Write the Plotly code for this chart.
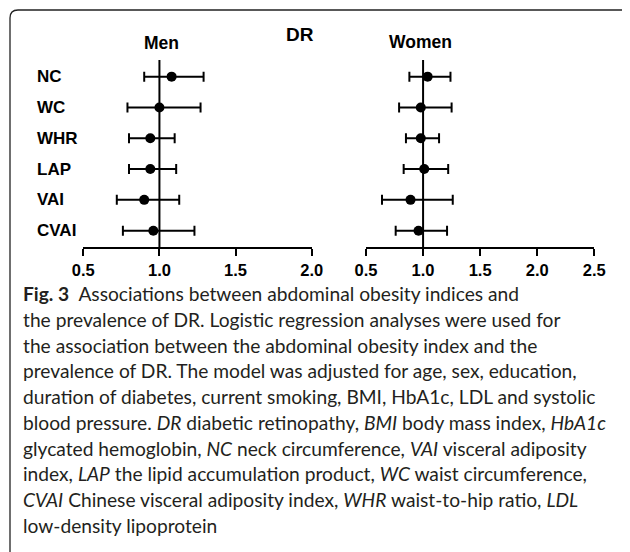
import plotly.graph_objects as go

# ---------------- data ----------------
categories = ["NC", "WC", "WHR", "LAP", "VAI", "CVAI"]
men_or = [1.08, 1.00, 0.94, 0.94, 0.90, 0.96]
men_lo = [0.90, 0.79, 0.80, 0.80, 0.72, 0.76]
men_hi = [1.29, 1.27, 1.10, 1.11, 1.13, 1.23]
women_or = [1.04, 0.98, 0.98, 1.01, 0.89, 0.96]
women_lo = [0.88, 0.79, 0.85, 0.83, 0.64, 0.76]
women_hi = [1.24, 1.25, 1.14, 1.22, 1.26, 1.21]
men_ticks = [0.5, 1.0, 1.5, 2.0]
women_ticks = [0.5, 1.0, 1.5, 2.0, 2.5]

caption_lines = [
    "<b>Fig. 3</b>  Associations between abdominal obesity indices and",
    "the prevalence of DR. Logistic regression analyses were used for",
    "the association between the abdominal obesity index and the",
    "prevalence of DR. The model was adjusted for age, sex, education,",
    "duration of diabetes, current smoking, BMI, HbA1c, LDL and systolic",
    "blood pressure. <i>DR</i> diabetic retinopathy, <i>BMI</i> body mass index, <i>HbA1c</i>",
    "glycated hemoglobin, <i>NC</i> neck circumference, <i>VAI</i> visceral adiposity",
    "index, <i>LAP</i> the lipid accumulation product, <i>WC</i> waist circumference,",
    "<i>CVAI</i> Chinese visceral adiposity index, <i>WHR</i> waist-to-hip ratio, <i>LDL</i>",
    "low-density lipoprotein",
]

W, H = 630, 552
OFF = 8  # page body margin
def px(x):
    return (x - OFF) / W
def py(y):
    return 1 - (y - OFF) / H

ypos = list(range(len(categories)))
BLACK = "#000000"
FONT = "Liberation Sans, Arial, sans-serif"
CAPFONT = "Lato, Open Sans, sans-serif"

fig = go.Figure()

def add_series(xs, lo, hi, xa, ya):
    fig.add_trace(go.Scatter(
        x=xs, y=ypos, mode="markers", xaxis=xa, yaxis=ya,
        marker=dict(color=BLACK, size=10),
        error_x=dict(type="data", symmetric=False,
                     array=[h - v for h, v in zip(hi, xs)],
                     arrayminus=[v - l for l, v in zip(lo, xs)],
                     color=BLACK, thickness=2, width=5),
        showlegend=False, hoverinfo="skip"))

add_series(men_or, men_lo, men_hi, "x", "y")
add_series(women_or, women_lo, women_hi, "x2", "y2")

ydom = [py(247), py(60)]
yrange = [5.53, -0.54]
axis_common = dict(showline=True, linewidth=2, linecolor=BLACK, ticks="outside",
                   ticklen=7, tickwidth=2, tickcolor=BLACK, showgrid=False,
                   zeroline=False, tickformat=".1f", automargin=False,
                   tickfont=dict(family=FONT, size=16.5, color=BLACK, weight="bold"))
fig.update_layout(
    width=W, height=H, margin=dict(l=0, r=0, t=0, b=0),
    paper_bgcolor="white", plot_bgcolor="rgba(0,0,0,0)",
    xaxis=dict(domain=[px(83.3), px(311.7)], range=[0.5, 2.0], tickvals=men_ticks,
               anchor="y", **axis_common),
    xaxis2=dict(domain=[px(366), px(594.3)], range=[0.5, 2.5], tickvals=women_ticks,
                anchor="y2", **axis_common),
    yaxis=dict(domain=ydom, range=yrange, visible=False, anchor="x"),
    yaxis2=dict(domain=ydom, range=yrange, visible=False, anchor="x2"),
)

shapes = [
    dict(type="line", xref="x", yref="y domain", x0=1.0, x1=1.0, y0=0, y1=1,
         line=dict(color=BLACK, width=2), layer="below"),
    dict(type="line", xref="x2", yref="y2 domain", x0=1.0, x1=1.0, y0=0, y1=1,
         line=dict(color=BLACK, width=2), layer="below"),
    dict(type="path", xref="paper", yref="paper",
         path=f"M {px(10)},{py(560)} L {px(10)},{py(18)} Q {px(10)},{py(10)} {px(18)},{py(10)} "
              f"L {px(623)},{py(10)} Q {px(627)},{py(10)} {px(629)},{py(13)}",
         line=dict(color="#222222", width=1.3)),
]
fig.update_layout(shapes=shapes)

ann = []
for i, c in enumerate(categories):
    ann.append(dict(x=px(35), y=i, xref="paper", yref="y", text=c, showarrow=False,
                    xanchor="left", yanchor="middle",
                    font=dict(family=FONT, size=17, color=BLACK, weight="bold")))
ann.append(dict(x=px(161), y=py(43), xref="paper", yref="paper", text="Men", showarrow=False,
                xanchor="center", yanchor="middle",
                font=dict(family=FONT, size=17.5, color=BLACK, weight="bold")))
ann.append(dict(x=px(420), y=py(42), xref="paper", yref="paper", text="Women", showarrow=False,
                xanchor="center", yanchor="middle",
                font=dict(family=FONT, size=17.5, color=BLACK, weight="bold")))
ann.append(dict(x=px(300), y=py(35), xref="paper", yref="paper", text="DR", showarrow=False,
                xanchor="center", yanchor="middle",
                font=dict(family=FONT, size=19, color=BLACK, weight="bold")))
for k, line in enumerate(caption_lines):
    base = 300 + k * 25.75
    ann.append(dict(x=px(21), y=py(base - 6.5), xref="paper", yref="paper", text=line,
                    showarrow=False, xanchor="left", yanchor="middle", align="left",
                    font=dict(family=CAPFONT, size=19.2, color="#231f20")))
fig.update_layout(annotations=ann)

fig.write_html("out.html")
